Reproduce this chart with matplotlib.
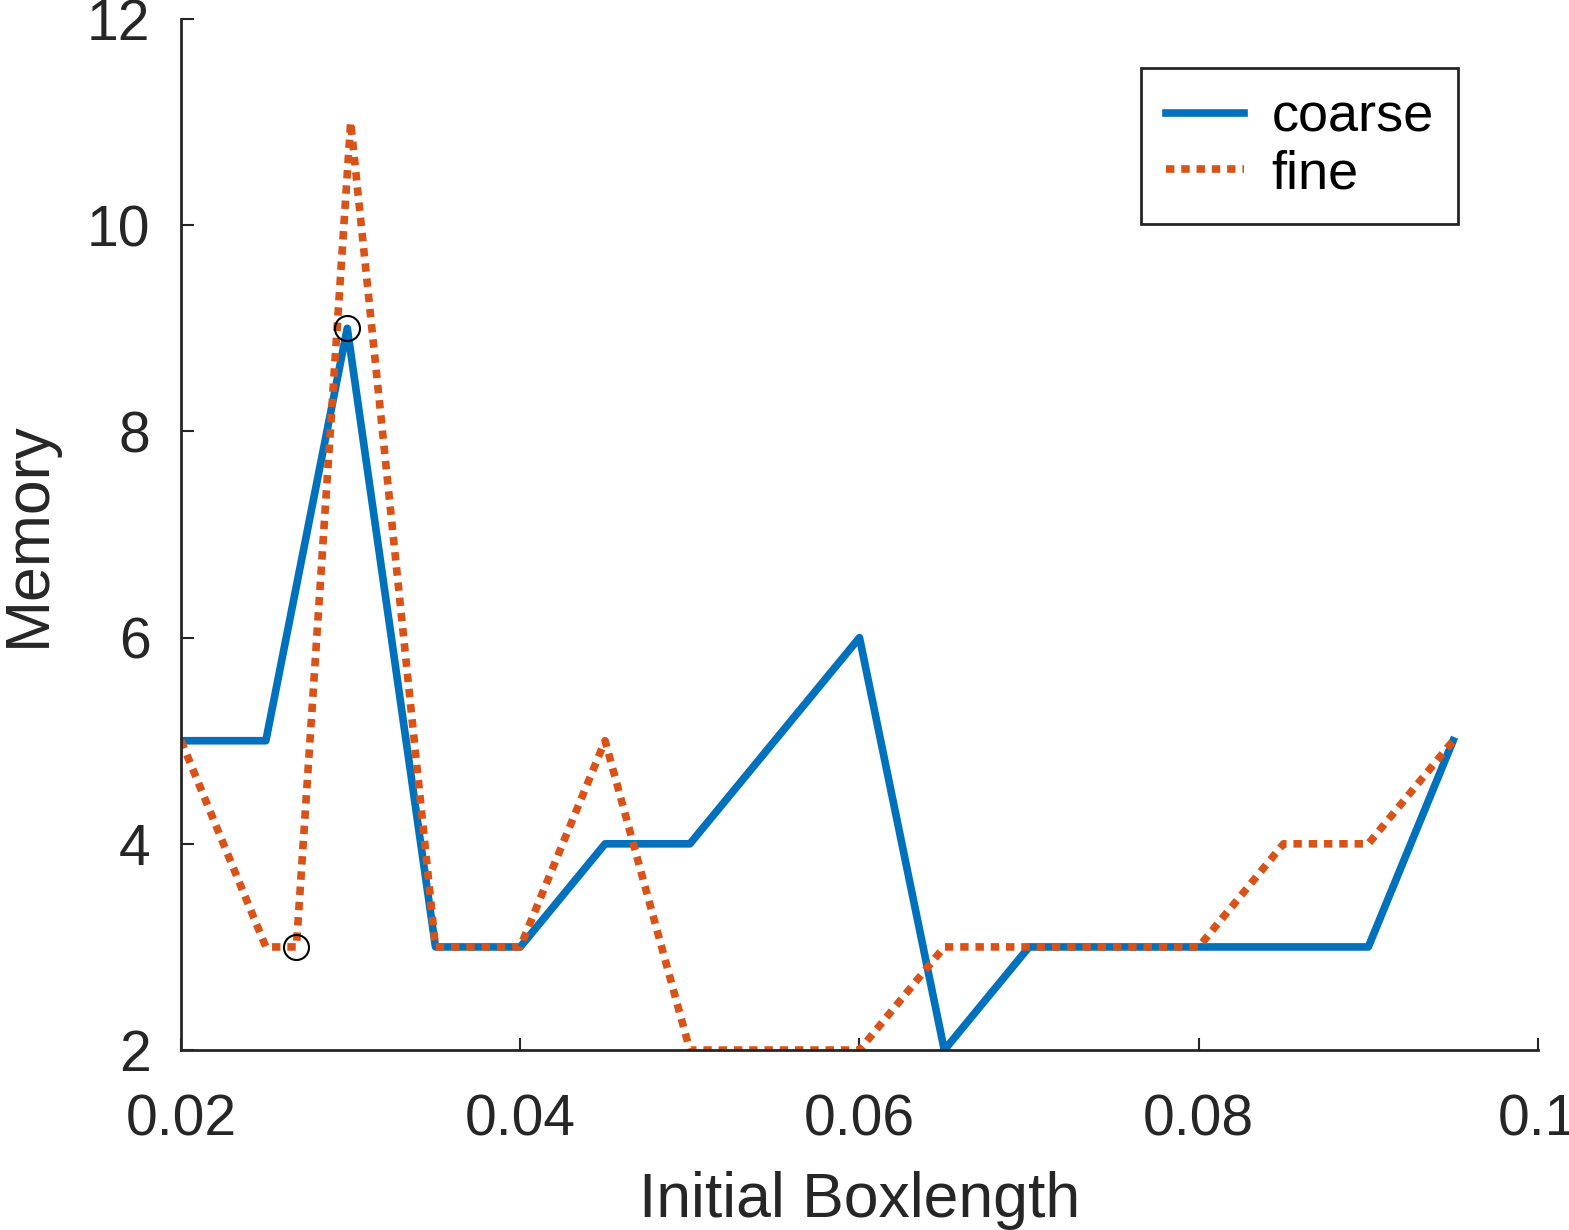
import matplotlib.pyplot as plt

plt.rcParams['font.family'] = ['Liberation Sans', 'DejaVu Sans']

# data
coarse_x = [0.02, 0.025, 0.0298, 0.035, 0.04, 0.045, 0.05, 0.055, 0.06, 0.065,
            0.07, 0.075, 0.08, 0.085, 0.09, 0.095]
coarse_y = [5, 5, 9, 3, 3, 4, 4, 5, 6, 2, 3, 3, 3, 3, 3, 5]
fine_x = [0.02, 0.025, 0.0268, 0.03, 0.035, 0.04, 0.045, 0.05, 0.055, 0.06, 0.065,
          0.07, 0.075, 0.08, 0.085, 0.09, 0.095]
fine_y = [5, 3, 3, 11, 3, 3, 5, 2, 2, 2, 3, 3, 3, 3, 4, 4, 5]
mark_x = [0.0268, 0.0298]
mark_y = [3, 9]
xticks = [0.02, 0.04, 0.06, 0.08, 0.1]
xticklabels = ['0.02', '0.04', '0.06', '0.08', '0.1']
yticks = [2, 4, 6, 8, 10, 12]

txt = '#262626'

fig = plt.figure(figsize=(15.69, 12.30), dpi=100)
ax = fig.add_axes([0.1154, 0.1463, 0.8648, 0.8383])

ax.plot(coarse_x, coarse_y, color='#0072BD', lw=5.5, label='coarse', solid_joinstyle='round')
ax.plot(fine_x, fine_y, color='#D95319', lw=5.5, ls=(0, (1.1, 0.9)), label='fine')
ax.plot(mark_x, mark_y, 'o', mfc='none', mec='black', ms=18, mew=1.5)

ax.set_xlim(0.02, 0.1)
ax.set_ylim(2, 12)
ax.set_xticks(xticks)
ax.set_xticklabels(xticklabels)
ax.set_yticks(yticks)

for s in ['top', 'right']:
    ax.spines[s].set_visible(False)
for s in ['left', 'bottom']:
    ax.spines[s].set_color(txt)
    ax.spines[s].set_linewidth(2)

ax.tick_params(direction='in', length=9, width=1.5, colors=txt, labelsize=41, pad=22)
ax.tick_params(axis='x', pad=31)

ax.set_xlabel('Initial Boxlength', fontsize=45, color=txt, labelpad=17)
ax.set_ylabel('Memory', fontsize=45, color=txt, labelpad=21)

leg = ax.legend(loc='upper right', bbox_to_anchor=(0.941, 0.952), fontsize=39,
                fancybox=False, framealpha=1, handlelength=1.45, borderpad=0.45,
                borderaxespad=0, labelspacing=0.12, handletextpad=0.5)
leg.get_frame().set_edgecolor(txt)
leg.get_frame().set_linewidth(2)

fig.savefig('out.png', dpi=100)
